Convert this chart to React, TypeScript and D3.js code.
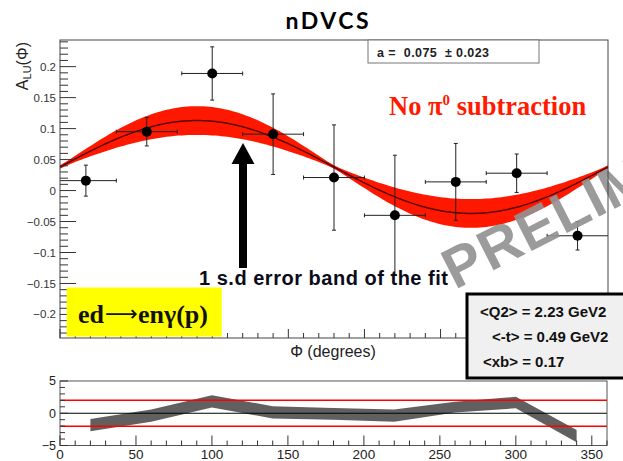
import React from 'react';
import * as d3 from 'd3';

// measured points: phi bin centre, A_LU and errors
const phiVals = [17, 57, 100, 140, 180, 220, 260, 300, 340];
const phiErrs = [20, 20, 20, 20, 20, 20, 20, 20, 20];
const aluVals = [0.016, 0.095, 0.189, 0.091, 0.021, -0.04, 0.014, 0.028, -0.073];
const aluErrs = [0.025, 0.023, 0.043, 0.065, 0.085, 0.097, 0.062, 0.031, 0.023];

// fit p0 + a*sin(phi), a from stat box
const fitP0 = 0.038;
const fitP0Err = 0.003;
const fitA = 0.075;
const fitAErr = 0.023;

// residual panel band (upper / lower edge)
const residPhi = [20, 60, 100, 140, 180, 220, 260, 300, 340];
const residHi = [-0.9, 0.6, 2.8, 1.1, 0.8, 0.6, 1.8, 2.55, -2.6];
const residLo = [-2.8, -1.3, 0.9, -0.8, -1.0, -1.3, 0.1, 0.77, -4.5];

const yTicksMain = [0.2, 0.15, 0.1, 0.05, 0, -0.05, -0.1, -0.15, -0.2];
const yTickLabelsMain = ['0.2', '0.15', '0.1', '0.05', '0', '\u22120.05', '\u22120.1', '\u22120.15', '\u22120.2'];
const xTicksBottom = [0, 50, 100, 150, 200, 250, 300, 350];
const yTicksBottom = [5, 0, -5];
const yTickLabelsBottom = ['5', '0', '\u22125'];
const infoLines = ['<Q2> = 2.23 GeV2', '<-t> = 0.49 GeV2', '<xb> = 0.17'];

const W = 623;
const H = 461;
const sans = 'Liberation Sans, Arial, sans-serif';
const serif = 'Liberation Serif, Times New Roman, serif';

function App() {
  const x = d3.scaleLinear().domain([0, 360]).range([60, 608]);
  const y = d3.scaleLinear().domain([-0.238, 0.243]).range([338, 40]);
  const xb = d3.scaleLinear().domain([0, 360]).range([60, 607]);
  const yb = d3.scaleLinear().domain([-5, 5]).range([445.5, 381]);

  const rad = Math.PI / 180;
  const fitPhi = d3.range(0, 361, 2);
  const fitVal = (p: number) => fitP0 + fitA * Math.sin(p * rad);
  const fitSig = (p: number) =>
    Math.sqrt(fitP0Err * fitP0Err + Math.pow(fitAErr * Math.sin(p * rad), 2));

  const band = d3
    .area<number>()
    .x((p) => x(p))
    .y0((p) => y(fitVal(p) - fitSig(p)))
    .y1((p) => y(fitVal(p) + fitSig(p)));
  const fitLine = d3
    .line<number>()
    .x((p) => x(p))
    .y((p) => y(fitVal(p)));

  const residArea = d3
    .area<number>()
    .x((_, i) => xb(residPhi[i]))
    .y0((_, i) => yb(residLo[i]))
    .y1((_, i) => yb(residHi[i]));

  const minorY = d3.range(-0.23, 0.2401, 0.01).map((v) => +v.toFixed(2));
  const minorX = d3.range(0, 361, 10);
  const minorYb = d3.range(-5, 5.01, 1);

  return (
    <svg
      width={W}
      height={H}
      style={{ position: 'absolute', left: 0, top: 0, background: '#fff' }}
      xmlns="http://www.w3.org/2000/svg"
    >
      {/* title */}
      <text x={327} y={29} textAnchor="middle" fontFamily="Lato, sans-serif" fontWeight="bold" fontSize={23} textLength={83}>
        nDVCS
      </text>

      {/* ---- main panel ---- */}
      <path d={band(fitPhi) || ''} fill="#ff1800" />
      <path d={fitLine(fitPhi) || ''} fill="none" stroke="#5a0000" strokeWidth={1.5} />

      <g stroke="#222" strokeWidth={1}>
        {phiVals.map((p, i) => {
          const cx = x(p);
          const cy = y(aluVals[i]);
          const x0 = Math.max(x(p - phiErrs[i]), 60);
          const x1 = Math.min(x(p + phiErrs[i]), 608);
          const y0 = y(aluVals[i] + aluErrs[i]);
          const y1 = y(aluVals[i] - aluErrs[i]);
          return (
            <g key={i}>
              <line x1={x0} x2={x1} y1={cy} y2={cy} />
              <line x1={cx} x2={cx} y1={y0} y2={y1} />
              <line x1={cx - 2} x2={cx + 2} y1={y0} y2={y0} />
              <line x1={cx - 2} x2={cx + 2} y1={y1} y2={y1} />
              {x0 > 60 && <line x1={x0} x2={x0} y1={cy - 2} y2={cy + 2} />}
              {x1 < 608 && <line x1={x1} x2={x1} y1={cy - 2} y2={cy + 2} />}
            </g>
          );
        })}
      </g>
      {phiVals.map((p, i) => (
        <circle key={i} cx={x(p)} cy={y(aluVals[i])} r={5} fill="#000" />
      ))}

      {/* watermark */}
      <text
        transform="translate(455,290) rotate(-27)"
        fontFamily={sans}
        fontWeight="bold"
        fontSize={57}
        letterSpacing={1.5}
        fill="#939393"
        fillOpacity={0.92}
      >
        PRELIMINARY
      </text>

      {/* frame + ticks */}
      <rect x={60} y={40} width={548} height={298} fill="none" stroke="#444" strokeWidth={1} />
      <g stroke="#333" strokeWidth={1}>
        {minorY.map((v, i) => {
          const major = Math.abs(Math.round(v * 100) % 5) === 0;
          return <line key={i} x1={60} x2={60 + (major ? 16 : 8)} y1={y(v)} y2={y(v)} />;
        })}
        {minorX.map((v, i) => (
          <line key={i} x1={x(v)} x2={x(v)} y1={338} y2={338 - (v % 50 === 0 ? 9 : 5)} />
        ))}
      </g>
      {yTicksMain.map((v, i) => (
        <text key={i} x={56} y={y(v)} dy="0.35em" textAnchor="end" fontFamily={sans} fontSize={11.5} fill="#333">
          {yTickLabelsMain[i]}
        </text>
      ))}

      {/* axis titles */}
      <text transform="translate(28,42) rotate(-90)" textAnchor="end" fontFamily={sans} fontSize={16} fill="#222">
        A<tspan fontSize={11} dy={3}>LU</tspan>
        <tspan dy={-3}>(Φ)</tspan>
      </text>
      <text x={333} y={357} textAnchor="middle" fontFamily={sans} fontSize={16} fill="#222">
        Φ (degrees)
      </text>

      {/* fit stat box */}
      <rect x={368} y={40} width={171} height={23} fill="#fff" stroke="#777" strokeWidth={1} />
      <text x={377} y={57} fontFamily={sans} fontWeight="bold" fontSize={12.5} fill="#222" xmlSpace="preserve" textLength={112}>
        a =  0.075  ± 0.023
      </text>

      <text x={389} y={115} fontFamily={serif} fontWeight="bold" fontSize={26.5} fill="#ff1a00">
        No π<tspan fontSize={15} dy={-10}>0</tspan>
        <tspan dy={10}> subtraction</tspan>
      </text>

      {/* arrow annotation */}
      <polygon points="243,143 231.5,164 254.5,164" fill="#000" />
      <rect x={239} y={162} width={8} height={106} fill="#000" />
      <text x={199} y={285} fontFamily={sans} fontWeight="bold" fontSize={20} fill="#0b0b1a" textLength={249}>
        1 s.d error band of the fit
      </text>

      {/* reaction label */}
      <rect x={66.7} y={287.5} width={155} height={49} fill="#ffff00" />
      <g fontFamily={serif} fontWeight="bold" fontSize={26} fill="#111">
        <text x={78} y={323}>ed</text>
        <text
          x={105}
          y={321}
          fontFamily="DejaVu Sans, sans-serif"
          fontWeight="normal"
          fontSize={22}
          textLength={33}
          lengthAdjust="spacingAndGlyphs"
        >
          ⟶
        </text>
        <text x={138} y={323}>enγ(p)</text>
      </g>

      {/* kinematics box */}
      <rect x={467} y={294} width={160} height={84} fill="#f0f0f0" stroke="#000" strokeWidth={3} />
      {infoLines.map((t, i) => (
        <text
          key={i}
          x={[480, 492, 483][i]}
          y={317 + i * 25}
          fontFamily={sans}
          fontWeight="bold"
          fontSize={15}
          fill="#111"
        >
          {t}
        </text>
      ))}

      {/* ---- residual panel ---- */}
      <path d={residArea(residPhi) || ''} fill="#606060" />
      <line x1={xb(0)} x2={xb(360)} y1={yb(0)} y2={yb(0)} stroke="#000" strokeWidth={1.2} />
      <line x1={xb(0)} x2={xb(360)} y1={yb(2)} y2={yb(2)} stroke="#ff0000" strokeWidth={1.5} />
      <line x1={xb(0)} x2={xb(360)} y1={yb(-2)} y2={yb(-2)} stroke="#ff0000" strokeWidth={1.5} />
      <rect x={60} y={381} width={547} height={64.5} fill="none" stroke="#555" strokeWidth={1} />
      <g stroke="#333" strokeWidth={1}>
        {minorX.map((v, i) => (
          <line key={i} x1={xb(v)} x2={xb(v)} y1={445.5} y2={445.5 - (v % 50 === 0 ? 10 : 5)} />
        ))}
        {minorYb.map((v, i) => (
          <line key={i} x1={60} x2={60 + (v % 5 === 0 ? 8 : 5)} y1={yb(v)} y2={yb(v)} />
        ))}
      </g>
      {xTicksBottom.map((v, i) => (
        <text key={i} x={xb(v)} y={458.5} textAnchor="middle" fontFamily={sans} fontSize={13.5} fill="#222">
          {v}
        </text>
      ))}
      {yTicksBottom.map((v, i) => (
        <text key={i} x={56} y={yb(v)} dy="0.35em" textAnchor="end" fontFamily={sans} fontSize={12.5} fill="#222">
          {yTickLabelsBottom[i]}
        </text>
      ))}
    </svg>
  );
}

export default App;
